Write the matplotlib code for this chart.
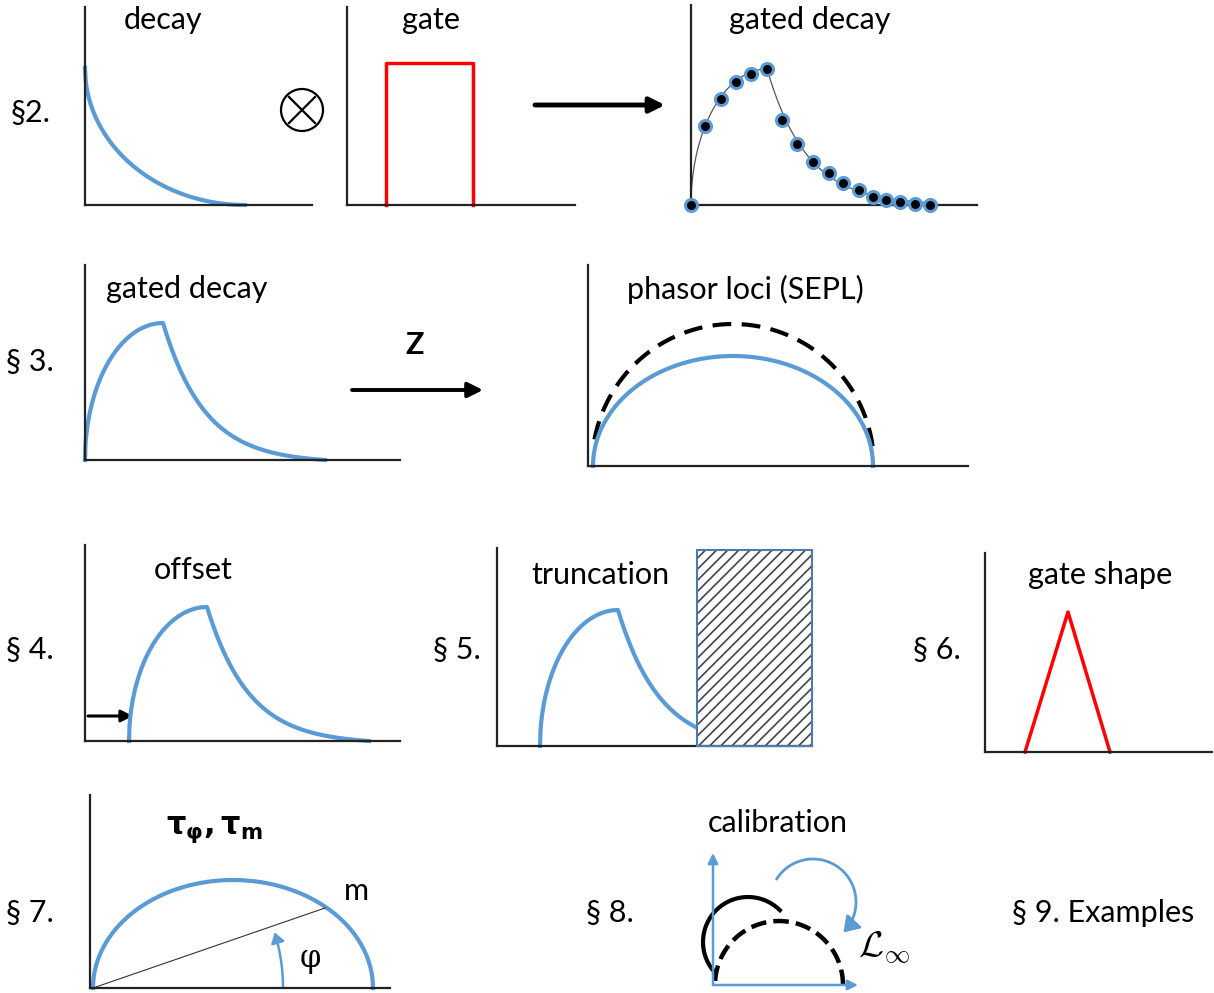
import numpy as np
import matplotlib.pyplot as plt
from matplotlib.patches import Rectangle, Circle, FancyArrowPatch
from matplotlib.path import Path

plt.rcParams['font.family'] = ['Lato', 'DejaVu Sans']
plt.rcParams['hatch.linewidth'] = 1.2

W, H = 1214, 993
BLUE = '#5b9bd5'
RED = '#ff0000'
AX = '#222222'
FS = 22

# §2 decay drawn as a concave arc from the y axis down to the baseline
decay_amp = 137
decay_len = 160

# §2 rectangular gate (on, off, height)
gate_on = 39
gate_off = 126
gate_height = 142

# §2 gated decay samples
gd_t = [0, 14, 30, 45, 60, 76, 91, 106, 122, 138, 152, 168, 182, 195, 209, 224, 239]
gd_y = [0, 79, 106, 123, 131, 136, 85, 61, 43, 32, 22, 15, 8, 5, 3, 1, 0]
gd_fall_tau = 40

# §3-§5 gated decay shape: peak time, peak height, fall constant, end
gated_peak_t = 78
gated_peak = 137
gated_fall_tau = 42
gated_end = 240
offset_t0 = 44
trunc_t0 = 43
trunc_peak = 136
trunc_cut = 200

# §3 phasor loci (centre, radius x, radius y)
sepl_c, sepl_rx, sepl_ry = 145, 141, 142
loci_c, loci_rx, loci_ry = 145, 140, 110

# §6 triangular gate
tri_t = [40, 83, 125]
tri_y = [0, 140, 0]

# §7 phasor and phase angle
ph_c, ph_rx, ph_ry = 143, 140, 108
m_point = (235, 80)
phi_deg = 17

# §8 calibration circles and rotation arrow
cal_c, cal_r = 66, 64
raw_c, raw_r = (35, 43), 45
rot_c, rot_r = (100, 83), 43
rot_from, rot_to = 148, -45


def panel(fig, l, t, r, b, spines=True):
    ax = fig.add_axes([l / W, 1 - b / H, (r - l) / W, (b - t) / H])
    ax.set_xlim(0, r - l)
    ax.set_ylim(0, b - t)
    ax.set_xticks([])
    ax.set_yticks([])
    ax.patch.set_alpha(0)
    for s in ['top', 'right']:
        ax.spines[s].set_visible(False)
    for s in ['left', 'bottom']:
        ax.spines[s].set_color(AX)
        ax.spines[s].set_linewidth(1.6)
        ax.spines[s].set_visible(spines)
    return ax


def rise(t, tp, peak):
    # rounded rise up to the end of the gate
    return peak * np.sqrt(1 - (1 - t / tp) ** 2)


def gated(t0, peak, t_end):
    t1 = np.linspace(0, gated_peak_t, 150)
    y1 = rise(t1, gated_peak_t, peak)
    t2 = np.linspace(gated_peak_t, t_end, 150)
    e_end = np.exp(-(gated_end - gated_peak_t) / gated_fall_tau)
    y2 = peak * (np.exp(-(t2 - gated_peak_t) / gated_fall_tau) - e_end) / (1 - e_end)
    return np.concatenate([t1, t2]) + t0, np.concatenate([y1, y2])


def txt(ov, x, y, s, size=FS, **kw):
    ov.text(x, y, s, fontsize=size, ha='center', va='center', **kw)


def arrow(ov, x0, x1, y, lw=3.0, hl=0.9, hw=0.45):
    ov.annotate('', xy=(x1, y), xytext=(x0, y),
                arrowprops=dict(arrowstyle='-|>,head_length=%s,head_width=%s' % (hl, hw),
                                lw=lw, color='black', shrinkA=0, shrinkB=0))


def main():
    fig = plt.figure(figsize=(W / 100, H / 100), dpi=100)
    ov = fig.add_axes([0, 0, 1, 1])
    ov.set_xlim(0, W)
    ov.set_ylim(H, 0)
    ov.axis('off')

    # --- §2 ---
    ax = panel(fig, 85, 7, 312, 205)
    t = np.linspace(0, decay_len, 200)
    y = decay_amp * (1 - np.sqrt(1 - (1 - t / decay_len) ** 2))
    ax.plot(t, y, color=BLUE, lw=3, clip_on=False)

    ax = panel(fig, 347, 7, 575, 205)
    ax.plot([gate_on, gate_on, gate_off, gate_off], [0, gate_height, gate_height, 0],
            color=RED, lw=2.5, clip_on=False)

    ax = panel(fig, 691, 5, 977, 205)
    t1 = np.linspace(0, gd_t[5], 150)
    y1 = rise(t1, gd_t[5], gd_y[5])
    t2 = np.linspace(gd_t[5], gd_t[-1], 150)
    y2 = gd_y[5] * np.exp(-(t2 - gd_t[5]) / gd_fall_tau)
    ax.plot(np.concatenate([t1, t2]), np.concatenate([y1, y2]), color='#555555', lw=0.9)
    ax.scatter(gd_t, gd_y, s=75, color='black', edgecolors=BLUE, linewidths=2.2,
               zorder=3, clip_on=False)

    txt(ov, 163, 20, 'decay')
    txt(ov, 431, 20, 'gate')
    txt(ov, 810, 20, 'gated decay')
    txt(ov, 30, 113, '§2.')
    ov.add_patch(Circle((302, 110), 21, fill=False, lw=1.6, color='black'))
    d = 21 * 0.62
    ov.plot([302 - d, 302 + d], [110 - d, 110 + d], color='black', lw=1.6)
    ov.plot([302 - d, 302 + d], [110 + d, 110 - d], color='black', lw=1.6)
    arrow(ov, 535, 665, 105, lw=3.5)

    # --- §3 ---
    ax = panel(fig, 85, 265, 400, 460)
    t, y = gated(0, gated_peak, gated_end)
    ax.plot(t, y, color=BLUE, lw=3, clip_on=False)
    txt(ov, 187, 289, 'gated decay')
    txt(ov, 415, 345, 'Z', fontweight='bold')
    arrow(ov, 352, 483, 390, lw=2.8)
    txt(ov, 30, 362, '§ 3.')

    ax = panel(fig, 588, 265, 968, 466)
    th = np.radians(np.linspace(8, 172, 200))
    ax.plot(sepl_c + sepl_rx * np.cos(th), sepl_ry * np.sin(th), color='black', lw=3,
            dashes=(4.5, 2.5))
    th = np.radians(np.linspace(0, 180, 200))
    ax.plot(loci_c + loci_rx * np.cos(th), loci_ry * np.sin(th), color=BLUE, lw=3,
            clip_on=False)
    txt(ov, 745, 289, 'phasor loci (SEPL)')

    # --- §4 ---
    ax = panel(fig, 85, 545, 400, 741)
    t, y = gated(offset_t0, gated_peak - 3, gated_end)
    ax.plot(t, y, color=BLUE, lw=3, clip_on=False)
    txt(ov, 193, 570, 'offset')
    ov.annotate('', xy=(133, 716), xytext=(88, 716),
                arrowprops=dict(arrowstyle='-|>,head_length=0.7,head_width=0.35',
                                lw=2.2, color='black', shrinkA=0, shrinkB=0))
    txt(ov, 30, 650, '§ 4.')

    # --- §5 ---
    ax = panel(fig, 497, 548, 812, 746)
    t, y = gated(trunc_t0, trunc_peak, trunc_cut - trunc_t0)
    ax.plot(t, y, color=BLUE, lw=3, clip_on=False)
    ax.add_patch(Rectangle((trunc_cut, 0), 315 - trunc_cut, 196, facecolor='white',
                           edgecolor='#444444', hatch='///', lw=0, zorder=2))
    ax.add_patch(Rectangle((trunc_cut, 0), 315 - trunc_cut, 196, fill=False,
                           edgecolor='#4a7ab0', lw=1.5, zorder=3, clip_on=False))
    txt(ov, 600, 575, 'truncation')
    txt(ov, 457, 650, '§ 5.')

    # --- §6 ---
    ax = panel(fig, 985, 553, 1212, 752)
    ax.plot(tri_t, tri_y, color=RED, lw=2.5, clip_on=False)
    txt(ov, 1100, 575, 'gate shape')
    txt(ov, 937, 650, '§ 6.')

    # --- §7 ---
    ax = panel(fig, 90, 795, 390, 988)
    th = np.radians(np.linspace(0, 180, 200))
    ax.plot(ph_c + ph_rx * np.cos(th), ph_ry * np.sin(th), color=BLUE, lw=3, clip_on=False)
    ax.plot([3, m_point[0]], [0, m_point[1]], color='#333333', lw=0.8)
    r = 190
    th = np.radians(np.linspace(0, phi_deg, 30))
    ax.add_patch(FancyArrowPatch(path=Path(np.column_stack([3 + r * np.cos(th), r * np.sin(th)])),
                                 arrowstyle='-|>,head_length=6,head_width=4',
                                 color=BLUE, lw=1.8, clip_on=False))
    txt(ov, 215, 830, r'$\mathbf{\tau_{\varphi}, \tau_{m}}$')
    txt(ov, 356, 891, 'm')
    txt(ov, 310, 958, 'φ', family='DejaVu Serif')
    txt(ov, 30, 913, '§ 7.')

    # --- §8 ---
    ax = panel(fig, 713, 845, 870, 985, spines=False)
    ax.annotate('', xy=(0, 132), xytext=(0, 0),
                arrowprops=dict(arrowstyle='-|>,head_length=0.6,head_width=0.3',
                                lw=1.8, color=BLUE, shrinkA=0, shrinkB=0))
    ax.annotate('', xy=(145, 0), xytext=(0, 0),
                arrowprops=dict(arrowstyle='-|>,head_length=0.6,head_width=0.3',
                                lw=1.8, color=BLUE, shrinkA=0, shrinkB=0))
    th = np.radians(np.linspace(0, 180, 200))
    ax.plot(cal_c + cal_r * np.cos(th), cal_r * np.sin(th), color='black', lw=3.2,
            dashes=(3.5, 1.6), clip_on=False)
    th = np.radians(np.linspace(45, 222, 200))
    ax.plot(raw_c[0] + raw_r * np.cos(th), raw_c[1] + raw_r * np.sin(th), color='black',
            lw=3, clip_on=False)
    th = np.radians(np.linspace(rot_from, rot_to, 60))
    pts = np.column_stack([rot_c[0] + rot_r * np.cos(th), rot_c[1] + rot_r * np.sin(th)])
    ax.add_patch(FancyArrowPatch(path=Path(pts), arrowstyle='-|>,head_length=9,head_width=6',
                                 color=BLUE, lw=2.0, clip_on=False))
    txt(ov, 778, 823, 'calibration')
    txt(ov, 884, 948, r'$\mathcal{L}_\infty$', size=26, math_fontfamily='cm')
    txt(ov, 610, 913, '§ 8.')
    txt(ov, 1103, 913, '§ 9. Examples')

    fig.savefig('out.png', dpi=100)


main()
